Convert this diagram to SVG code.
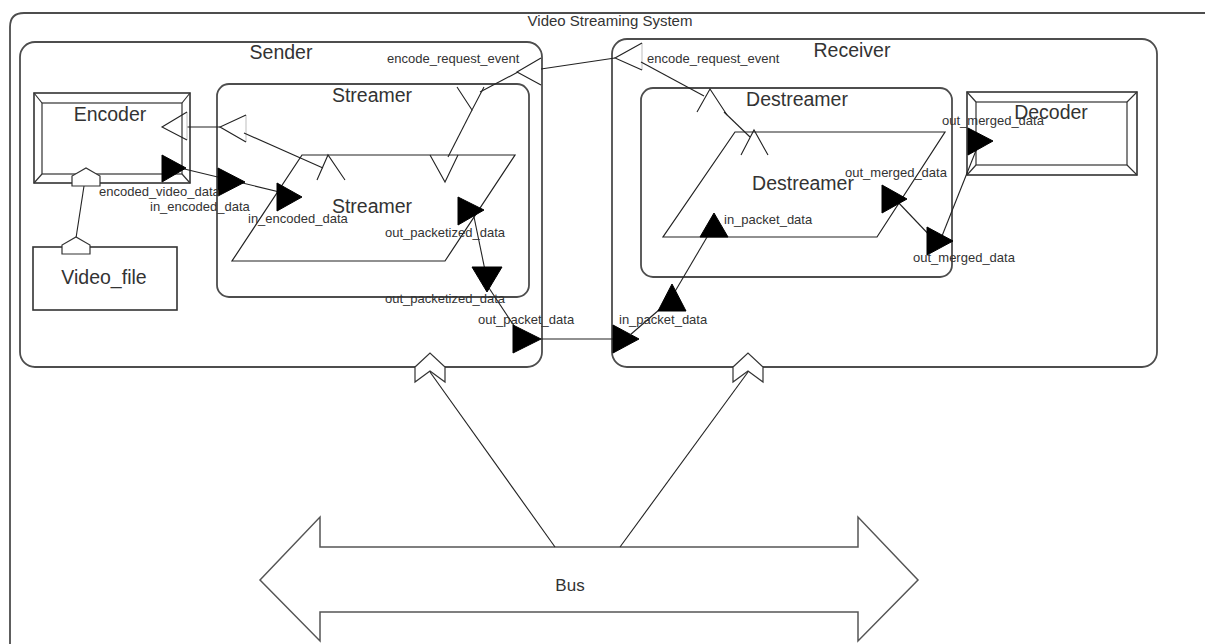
<svg xmlns="http://www.w3.org/2000/svg" width="1205" height="644" viewBox="0 0 1205 644">
  <style>
    .frame { fill: #ffffff; stroke: #4d4d4d; stroke-width: 1.8; }
    .box { fill: #ffffff; stroke: #333333; stroke-width: 1.6; }
    .bevel { fill: none; stroke: #333333; stroke-width: 1.2; }
    .para { fill: #ffffff; stroke: #222222; stroke-width: 1.2; }
    .wire { fill: none; stroke: #222222; stroke-width: 1.1; }
    .head { fill: #000000; stroke: #000000; stroke-width: 1; stroke-linejoin: round; }
    .open { fill: none; stroke: #222222; stroke-width: 1.1; }
    .ghost { fill: none; stroke: #c8c8c8; stroke-width: 1.2; }
    .port { fill: #ffffff; stroke: #333333; stroke-width: 1.2; }
    .bus { fill: #ffffff; stroke: #555555; stroke-width: 1.5; }
    .name { font-family: "Liberation Sans", Arial, sans-serif; font-size: 19.5px; fill: #333333; text-anchor: middle; }
    .sys { font-family: "Liberation Sans", Arial, sans-serif; font-size: 15px; fill: #333333; text-anchor: middle; }
    .lbl { font-family: "Liberation Sans", Arial, sans-serif; font-size: 13px; fill: #333333; }
  </style>

  <!-- system boundary (runs past the right edge) -->
  <g id="system">
    <path class="frame" d="M1300,13 L24,13 Q10,13 10,27 L10,650" fill="none"/>
    <text class="sys" x="610" y="26">Video Streaming System</text>
  </g>

  <!-- sender side -->
  <g id="sender">
    <rect class="frame" x="20" y="42" width="522" height="325" rx="15"/>
    <text class="name" x="281" y="59">Sender</text>
  </g>

  <!-- receiver side -->
  <g id="receiver">
    <rect class="frame" x="612" y="39" width="545" height="328" rx="15"/>
    <text class="name" x="852" y="57">Receiver</text>
  </g>

  <g id="streamer-composite">
    <rect class="frame" x="217" y="84" width="312" height="213" rx="12"/>
    <text class="name" x="372" y="102">Streamer</text>
  </g>

  <g id="destreamer-composite">
    <rect class="frame" x="641" y="88" width="311" height="189" rx="12"/>
    <text class="name" x="797" y="106">Destreamer</text>
  </g>

  <g id="streamer">
    <polygon class="para" points="302,155 515,155 445,261 232,261"/>
    <text class="name" x="372" y="213">Streamer</text>
  </g>

  <g id="destreamer">
    <polygon class="para" points="735,132 945,132 877,237 663,237"/>
    <text class="name" x="803" y="190">Destreamer</text>
  </g>

  <g id="encoder">
    <rect class="box" x="34" y="93" width="156" height="90"/>
    <rect class="bevel" x="42" y="103" width="140" height="71"/>
    <path class="bevel" d="M34,93 L42,103 M190,93 L182,103 M34,183 L42,174 M190,183 L182,174"/>
    <text class="name" x="110" y="121">Encoder</text>
  </g>

  <g id="decoder">
    <rect class="box" x="967" y="92" width="170" height="83"/>
    <rect class="bevel" x="976" y="102" width="151" height="63"/>
    <path class="bevel" d="M967,92 L976,102 M1137,92 L1127,102 M967,175 L976,165 M1137,175 L1127,165"/>
    <text class="name" x="1051" y="119">Decoder</text>
  </g>

  <g id="video-file">
    <rect class="box" x="33" y="247" width="144" height="63"/>
    <text class="name" x="104" y="284">Video_file</text>
  </g>

  <g id="bus">
    <polygon class="bus" points="260,580 320,517 320,547 858,547 858,517 918,580 858,641 858,612 320,612 320,641"/>
    <text class="sys" x="570" y="591" style="font-size:17px">Bus</text>
  </g>

  <!-- connectors, ports and arrowheads -->
  <g id="connectors">
    <!-- video file to encoder -->
    <line class="wire" x1="84" y1="186" x2="76" y2="238"/>
    <polygon class="port" points="72,186 72,176 86,168 100,176 100,186"/>
    <polygon class="port" points="62,254 62,245 76,237 90,245 90,254"/>

    <!-- encoded data flow -->
    <line class="wire" x1="172" y1="166" x2="292" y2="195"/>
    <polygon class="head" points="162,155 162,182 186,168"/>
    <polygon class="head" points="218,168 218,196 245,182"/>
    <polygon class="head" points="277,183 277,211 302,197"/>

    <!-- encode request event -->
    <line class="wire" x1="187" y1="127" x2="220" y2="127"/>
    <line class="ghost" x1="187" y1="112" x2="187" y2="140"/>
    <polyline class="open" points="187,112 162,127 187,140"/>
    <line class="ghost" x1="246" y1="115" x2="246" y2="142"/>
    <polyline class="open" points="246,115 220,127 246,142"/>
    <line class="wire" x1="244" y1="133" x2="323" y2="168"/>
    <polyline class="open" points="317,180 328,155 345,180"/>
    <polyline class="open" points="457,87 472,110 484,87"/>
    <line class="wire" x1="472" y1="110" x2="448" y2="157"/>
    <polyline class="open" points="430,155 445,182 458,155"/>
    <line class="wire" x1="480" y1="92" x2="518" y2="72"/>
    <polyline class="open" points="541,58 517,72 541,85"/>
    <line class="wire" x1="541" y1="69" x2="615" y2="58"/>
    <line class="ghost" x1="642" y1="43" x2="642" y2="70"/>
    <polyline class="open" points="642,43 615,58 642,70"/>
    <line class="wire" x1="641" y1="62" x2="704" y2="96"/>
    <polyline class="open" points="697,112 710,89 727,115"/>
    <line class="wire" x1="724" y1="112" x2="750" y2="137"/>
    <polyline class="open" points="741,155 754,130 768,155"/>

    <!-- packetized data out of the sender -->
    <line class="wire" x1="473" y1="212" x2="487" y2="280"/>
    <line class="wire" x1="487" y1="285" x2="522" y2="338"/>
    <polygon class="head" points="458,197 458,225 484,210"/>
    <polygon class="head" points="472,267 502,267 487,292"/>
    <line class="wire" x1="541" y1="339" x2="613" y2="339"/>
    <polygon class="head" points="513,325 513,353 541,339"/>
    <polygon class="head" points="613,325 613,353 639,339"/>

    <!-- packet data into the destreamer -->
    <line class="wire" x1="630" y1="335" x2="667" y2="303"/>
    <line class="wire" x1="670" y1="300" x2="710" y2="232"/>
    <polygon class="head" points="658,311 672,284 686,311"/>
    <polygon class="head" points="700,237 714,213 728,237"/>

    <!-- merged data to the decoder -->
    <line class="wire" x1="895" y1="199" x2="935" y2="241"/>
    <line class="wire" x1="940" y1="241" x2="977" y2="148"/>
    <polygon class="head" points="882,185 882,213 907,199"/>
    <polygon class="head" points="927,227 927,255 953,241"/>
    <polygon class="head" points="968,128 968,155 993,141"/>

    <!-- bus attachments -->
    <line class="wire" x1="430" y1="372" x2="555" y2="547"/>
    <line class="wire" x1="748" y1="372" x2="620" y2="547"/>
    <polygon class="port" points="415,367 430,353 445,367 445,382 430,371 415,382"/>
    <polygon class="port" points="733,367 748,353 763,367 763,382 748,371 733,382"/>
  </g>

  <!-- port labels -->
  <g id="labels">
    <text class="lbl" x="387" y="63">encode_request_event</text>
    <text class="lbl" x="647" y="63">encode_request_event</text>
    <text class="lbl" x="99" y="196">encoded_video_data</text>
    <text class="lbl" x="150" y="211">in_encoded_data</text>
    <text class="lbl" x="248" y="223">in_encoded_data</text>
    <text class="lbl" x="385" y="237">out_packetized_data</text>
    <text class="lbl" x="385" y="303">out_packetized_data</text>
    <text class="lbl" x="478" y="324">out_packet_data</text>
    <text class="lbl" x="619" y="324">in_packet_data</text>
    <text class="lbl" x="724" y="224">in_packet_data</text>
    <text class="lbl" x="845" y="177">out_merged_data</text>
    <text class="lbl" x="942" y="125">out_merged_data</text>
    <text class="lbl" x="913" y="262">out_merged_data</text>
  </g>
</svg>
